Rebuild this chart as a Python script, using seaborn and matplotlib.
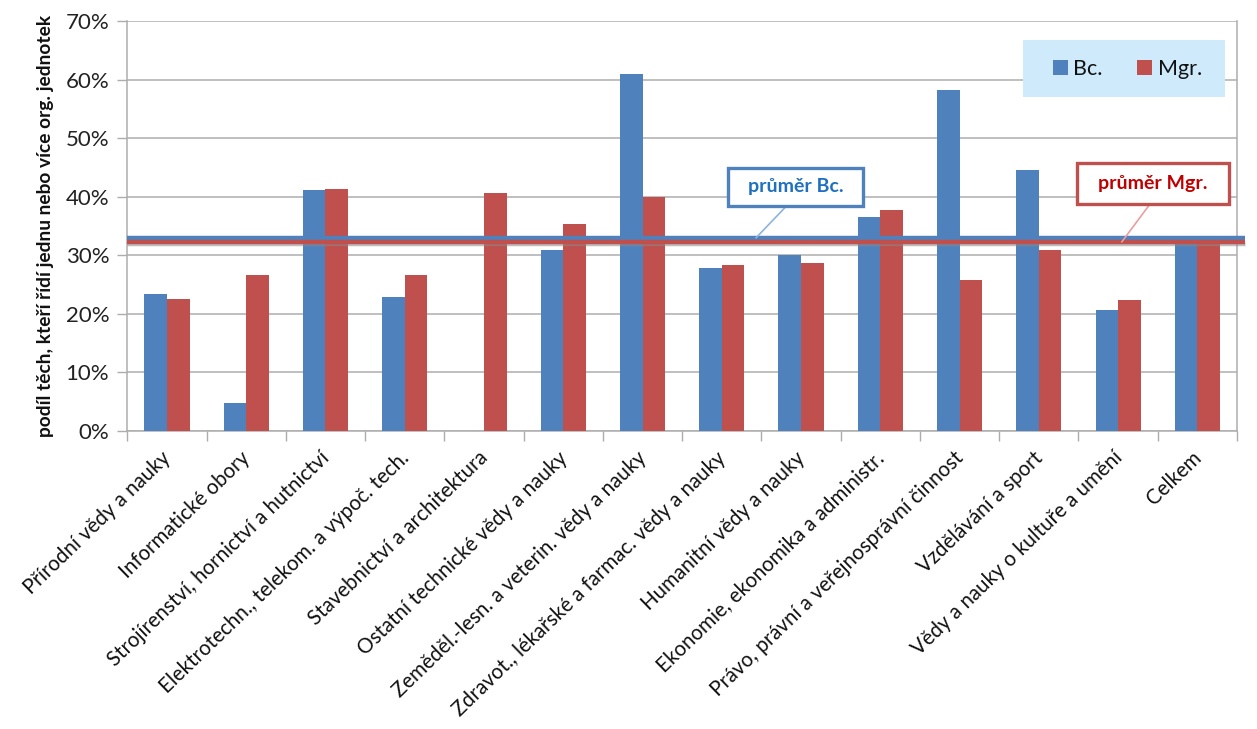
import numpy as np
import pandas as pd
import matplotlib
matplotlib.use("Agg")
import matplotlib.pyplot as plt
import matplotlib.transforms as mtransforms
from matplotlib.patches import Patch, Rectangle
import seaborn as sns

categories = [
    "Přírodní vědy a nauky",
    "Informatické obory",
    "Strojírenství, hornictví a hutnictví",
    "Elektrotechn., telekom. a výpoč. tech.",
    "Stavebnictví a architektura",
    "Ostatní technické vědy a nauky",
    "Zeměděl.-lesn. a veterin. vědy a nauky",
    "Zdravot., lékařské a farmac. vědy a nauky",
    "Humanitní vědy a nauky",
    "Ekonomie, ekonomika a administr.",
    "Právo, právní a veřejnosprávní činnost",
    "Vzdělávání a sport",
    "Vědy a nauky o kultuře a umění",
    "Celkem",
]
bc = [0.234, 0.047, 0.412, 0.229, 0.0, 0.309, 0.609, 0.279, 0.301, 0.366, 0.583, 0.445, 0.207, 0.328]
mgr = [0.226, 0.266, 0.414, 0.266, 0.406, 0.354, 0.399, 0.283, 0.287, 0.378, 0.258, 0.309, 0.224, 0.326]
series = ["Bc.", "Mgr."]
avg_bc = 0.3295
avg_mgr = 0.3227
avg_labels = ["průměr Bc.", "průměr Mgr."]
yticks = [0, 0.1, 0.2, 0.3, 0.4, 0.5, 0.6, 0.7]
ytick_labels = ["0%", "10%", "20%", "30%", "40%", "50%", "60%", "70%"]
ylabel = "podíl těch, kteří řídí jednu nebo více org. jednotek"

BLUE = "#4F81BD"
RED = "#C0504D"
GRID = "#ADADAD"

df = pd.DataFrame({
    "obor": categories * 2,
    "typ": [series[0]] * len(categories) + [series[1]] * len(categories),
    "podil": bc + mgr,
})

sns.set_theme(style="white")
plt.rcParams["font.family"] = ["Lato", "DejaVu Sans"]

fig = plt.figure(figsize=(12.57, 7.29), dpi=100)
ax = fig.add_axes([0.1013, 0.4088, 0.8828, 0.5624])

sns.barplot(data=df, x="obor", y="podil", hue="typ", order=categories,
            hue_order=series, palette=[BLUE, RED], width=0.57, gap=0,
            saturation=1, legend=False, ax=ax, zorder=3, linewidth=0)

ax.set_xlim(-0.5, len(categories) - 0.5)
ax.set_ylim(0, 0.7)
ax.set_yticks(yticks)
ax.set_yticklabels(ytick_labels, fontsize=16, color="#222222")
ax.yaxis.grid(True, color=GRID, lw=1.1, zorder=0)
ax.xaxis.grid(False)
ax.set_axisbelow(True)

# tick marks at category boundaries, labels at centers
ax.set_xticks(np.arange(-0.5, len(categories), 1.0))
ax.set_xticklabels([])
ax.set_xticks(np.arange(len(categories)), minor=True)
ax.set_xticklabels(categories, minor=True, rotation=44, ha="right", va="top",
                   fontsize=14.8, color="#111111")
ax.tick_params(axis="x", which="major", direction="out", length=7, color=GRID, width=1, bottom=True)
ax.tick_params(axis="x", which="minor", length=0, pad=12)
ax.tick_params(axis="y", direction="out", length=7, color=GRID, width=1, left=True, pad=6)
offset = mtransforms.ScaledTranslation(0.08, 0, fig.dpi_scale_trans)
for lab in ax.get_xticklabels(minor=True):
    lab.set_transform(lab.get_transform() + offset)

ax.set_xlabel("")
ax.set_ylabel(ylabel, fontsize=13.8, fontweight="bold", color="#111111", labelpad=8)

for side in ["left", "bottom", "right", "top"]:
    ax.spines[side].set_color(GRID)
    ax.spines[side].set_linewidth(1.1)
ax.spines["top"].set_visible(False)

# average lines
trans_line = mtransforms.blended_transform_factory(ax.transAxes, ax.transData)
ax.plot([0, 1.007], [avg_mgr - 0.003, avg_mgr - 0.003], transform=trans_line,
        color="#8a8a8a", lw=2.5, alpha=0.55, zorder=4, clip_on=False, solid_capstyle="butt")
ax.plot([0, 1.007], [avg_bc, avg_bc], transform=trans_line, color=BLUE, lw=3.2,
        zorder=5, clip_on=False, solid_capstyle="butt")
ax.plot([0, 1.007], [avg_mgr, avg_mgr], transform=trans_line, color=RED, lw=3.2,
        zorder=6, clip_on=False, solid_capstyle="butt")

# callouts: leader lines
ax.plot([7.43, 7.82], [avg_bc, 0.3847], color="#8DB3E2", lw=1.2, zorder=7)
ax.plot([12.046, 12.40], [avg_mgr, 0.3871], color="#E6A09E", lw=1.2, zorder=7)

# callout boxes (axes fraction)
for (x0, x1, y0, y1, ec, tc, txt) in [
        (0.5416, 0.6632, 0.5495, 0.6422, BLUE, "#1F70C1", avg_labels[0]),
        (0.8555, 0.9928, 0.5529, 0.6529, RED, "#C00000", avg_labels[1])]:
    ax.add_patch(Rectangle((x0, y0), x1 - x0, y1 - y0, transform=ax.transAxes,
                           fc="white", ec=ec, lw=2.4, zorder=8, clip_on=False))
    ax.text((x0 + x1) / 2, (y0 + y1) / 2, txt, transform=ax.transAxes,
            ha="center", va="center", fontsize=14, fontweight="bold", color=tc, zorder=9)

# legend background box + legend
ax.add_patch(Rectangle((0.8136, 0.8674), 0.1609, 0.0778, transform=fig.transFigure,
                       fc="#CFEBFB", ec="none", zorder=8, clip_on=False))
handles = [Patch(facecolor=BLUE, edgecolor="none", label=series[0]),
           Patch(facecolor=RED, edgecolor="none", label=series[1])]
leg = ax.legend(handles=handles, loc="center", bbox_to_anchor=(1127.3 / 1257, 1 - 69 / 729),
                bbox_transform=fig.transFigure, ncol=2, frameon=False, fontsize=15.5,
                handlelength=0.7, handleheight=0.7, handletextpad=0.25,
                columnspacing=1.6, borderpad=0.2)
leg.set_zorder(10)
for t in leg.get_texts():
    t.set_color("#111111")

fig.savefig("out.png", dpi=100)
